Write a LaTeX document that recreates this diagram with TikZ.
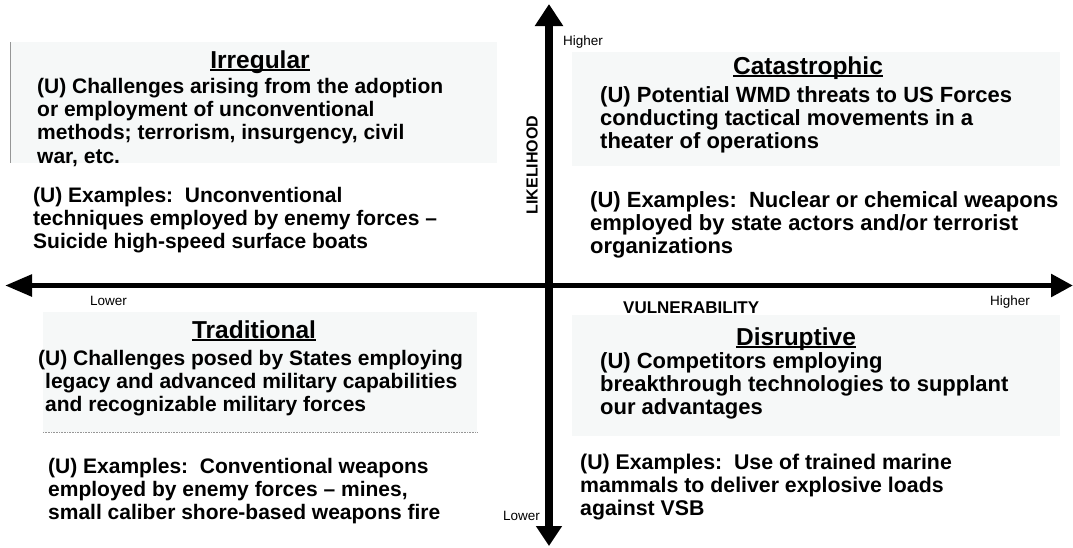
\documentclass[tikz,border=0pt]{standalone}
\usepackage{fontspec}
\setmainfont{Liberation Sans}
\usetikzlibrary{arrows.meta}
\frenchspacing
\definecolor{boxfill}{RGB}{246,248,248}
\definecolor{edgegray}{RGB}{150,150,150}
\newcommand\blk[1]{\begin{tabular}[t]{@{}l@{}}#1\end{tabular}}
\newcommand\ultitle[1]{\setbox0\hbox{#1}\rlap{\rule[-0.13em]{\wd0}{0.075em}}\box0}
\begin{document}
\begin{tikzpicture}[x=1pt,y=-1pt,
  body/.style={font=\fontsize{21}{23.2}\selectfont\bfseries, inner sep=0pt, anchor=base west},
  bodyr/.style={font=\fontsize{22}{23.4}\selectfont\bfseries, inner sep=0pt, anchor=base west},
  ttl/.style={font=\fontsize{24.5}{28}\selectfont\bfseries, inner sep=0pt, anchor=base},
  small/.style={font=\fontsize{13.5}{16}\selectfont, inner sep=0pt, anchor=base west},
  axlab/.style={font=\fontsize{16}{18}\selectfont\bfseries, inner sep=0pt},
  panel/.style={fill=boxfill, draw=none, inner sep=0pt, anchor=north west}]
\useasboundingbox (0,0) rectangle (1073,547);
\fill[white] (0,0) rectangle (1073,547);
% panels
\node[panel, minimum width=487pt, minimum height=121pt] (irrpanel) at (10,42) {};
\node[panel, minimum width=488pt, minimum height=114pt] (catpanel) at (572,52) {};
\node[panel, minimum width=434pt, minimum height=120pt] (tradpanel) at (43,312) {};
\node[panel, minimum width=488pt, minimum height=121pt] (dispanel) at (572,315) {};
\draw[edgegray, line width=0.8pt] (irrpanel.north west) -- (irrpanel.south west);
\draw[edgegray, line width=0.7pt, dash pattern=on 1pt off 0.6pt] (tradpanel.south west) -- (tradpanel.south east);
% axes
\coordinate (vtop) at (549,4);
\coordinate (vbot) at (549,546);
\coordinate (hl) at (5,285.5);
\coordinate (hr) at (1073,285.5);
\draw[line width=7.5pt, {Triangle[length=22pt,width=27pt]}-{Triangle[length=20pt,width=25pt]}] (vtop) -- (vbot);
\draw[line width=5.5pt, {Triangle[length=27pt,width=21pt]}-{Triangle[length=22pt,width=22pt]}] (hl) -- (hr);
% axis labels
\node[small] (hightop) at (563,45) {Higher};
\node[small] (lowleft) at (90,305) {Lower};
\node[small] (highright) at (990,305) {Higher};
\node[small] (lowbot) at (503,520) {Lower};
\node[axlab, rotate=90] (likelihood) at (532,165) {LIKELIHOOD};
\node[axlab, font=\fontsize{17}{19}\selectfont\bfseries, anchor=base west] (vuln) at (623,313) {VULNERABILITY};
% Irregular
\node[ttl] (irrtitle) at (260,68) {\ultitle{Irregular}};
\node[body] (irrbody) at (37,93.5) {\blk{(U) Challenges arising from the adoption\\or employment of unconventional\\methods; terrorism, insurgency, civil\\war, etc.}};
\node[body] (irrex) at (33,202) {\blk{(U) Examples:~ Unconventional\\techniques employed by enemy forces –\\Suicide high-speed surface boats}};
% Catastrophic
\node[ttl] (cattitle) at (808,74) {\ultitle{Catastrophic}};
\node[bodyr] (catbody) at (600,102) {\blk{(U) Potential WMD threats to US Forces\\conducting tactical movements in a\\theater of operations}};
\node[bodyr] (catex) at (590,207) {\blk{(U) Examples:~ Nuclear or chemical weapons\\employed by state actors and/or terrorist\\organizations}};
% Traditional
\node[ttl] (tradtitle) at (254,338) {\ultitle{Traditional}};
\node[body] (tradbody) at (38,365) {\blk{(U) Challenges posed by States employing\\\hspace*{7pt}legacy and advanced military capabilities\\\hspace*{7pt}and recognizable military forces}};
\node[body] (tradex) at (48,473) {\blk{(U) Examples:~ Conventional weapons\\employed by enemy forces – mines,\\small caliber shore-based weapons fire}};
% Disruptive
\node[ttl] (distitle) at (796,345) {\ultitle{Disruptive}};
\node[bodyr] (disbody) at (600,368) {\blk{(U) Competitors employing\\breakthrough technologies to supplant\\our advantages}};
\node[body, font=\fontsize{21.3}{23.2}\selectfont\bfseries] (disex) at (580,469) {\blk{(U) Examples:~ Use of trained marine\\mammals to deliver explosive loads\\against VSB}};
\end{tikzpicture}
\end{document}
